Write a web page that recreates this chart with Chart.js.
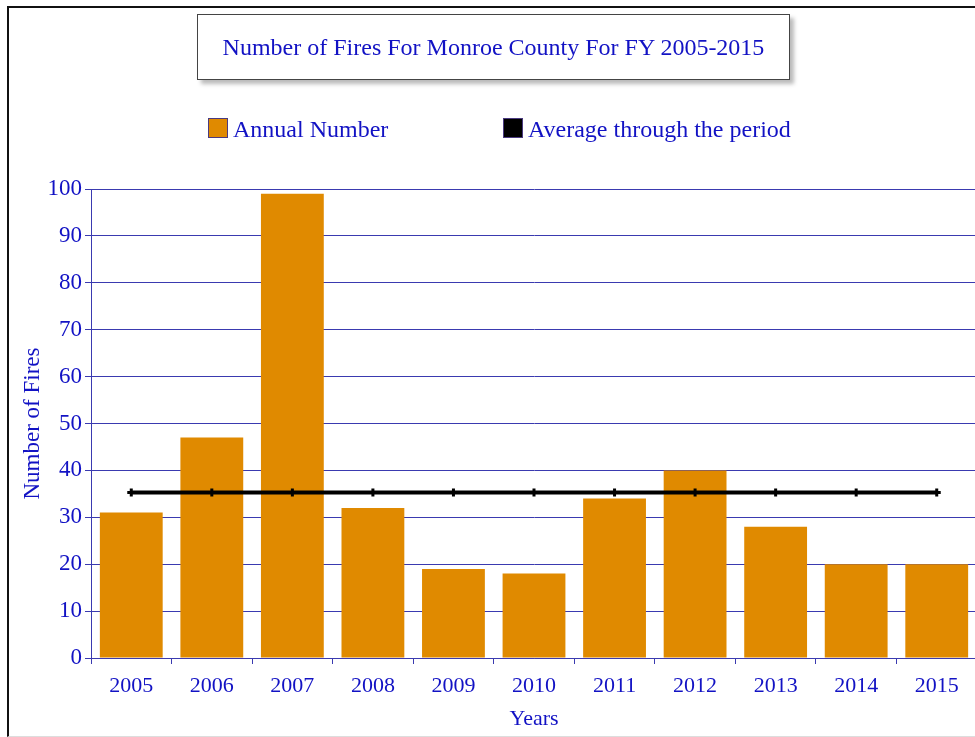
<!DOCTYPE html>
<html>
<head>
<meta charset="utf-8">
<script src="https://cdn.jsdelivr.net/npm/chart.js@4.4.0/dist/chart.umd.min.js"></script>
<style>
  html, body { margin: 0; padding: 0; background: #fff; }
  body { width: 975px; height: 737px; overflow: hidden; position: relative; font-family: "Liberation Serif", "Times New Roman", serif; }
  .frame { position: absolute; left: 7px; top: 6px; width: 1000px; height: 728px; border-left: 2px solid #111; border-top: 2px solid #111; border-bottom: 1px solid #ddd; }
  .titlebox { position: absolute; left: 197px; top: 14px; width: 591px; height: 64px; border: 1px solid #444; background: #fff; box-shadow: 4px 4px 4px #bbb; color: #1212c4; font-size: 24px; line-height: 64px; text-align: center; }
  .legend { position: absolute; top: 116px; color: #1212c4; font-size: 24px; line-height: 26px; white-space: nowrap; }
  .legend span.box { display: inline-block; width: 18px; height: 18px; vertical-align: -1px; margin-right: 5px; border: 1px solid #4a3a80; }
  #wrap { position: absolute; left: 0; top: 0; width: 984px; height: 737px; }
</style>
</head>
<body>
<div class="frame"></div>
<div id="wrap"><canvas id="fires"></canvas></div>
<div class="titlebox" id="title"></div>
<div class="legend" id="leg1" style="left:208px"></div>
<div class="legend" id="leg2" style="left:503px"></div>
<script>
const years = ['2005', '2006', '2007', '2008', '2009', '2010', '2011', '2012', '2013', '2014', '2015'];
const annualNumber = [31, 47, 99, 32, 19, 18, 34, 40, 28, 20, 20];
const periodAverage = [35.27, 35.27, 35.27, 35.27, 35.27, 35.27, 35.27, 35.27, 35.27, 35.27, 35.27];
const yTicks = [0, 10, 20, 30, 40, 50, 60, 70, 80, 90, 100];

const chartTitle = 'Number of Fires For Monroe County For FY 2005-2015';
const barColor = '#e08a00';
const lineColor = '#000000';
const textBlue = '#1212c4';
const gridBlue = '#3a3ab0';

document.getElementById('title').textContent = chartTitle;
document.getElementById('leg1').innerHTML = '<span class="box" style="background:' + barColor + '"></span>Annual Number';
document.getElementById('leg2').innerHTML = '<span class="box" style="background:' + lineColor + '"></span>Average through the period';

const serif = '"Liberation Serif", "Times New Roman", serif';

new Chart(document.getElementById('fires'), {
    data: {
        labels: years,
        datasets: [
            {
                type: 'line',
                label: 'Average through the period',
                data: periodAverage,
                borderColor: lineColor,
                backgroundColor: lineColor,
                borderWidth: 4,
                pointStyle: 'cross',
                pointRadius: 4,
                pointBorderWidth: 3,
                tension: 0,
                order: 0
            },
            {
                type: 'bar',
                label: 'Annual Number',
                data: annualNumber,
                backgroundColor: barColor,
                categoryPercentage: 0.78,
                barPercentage: 1.0,
                order: 1
            }
        ]
    },
    options: {
        responsive: true,
        maintainAspectRatio: false,
        animation: false,
        layout: { padding: { left: 10, top: 189, right: 0, bottom: 0 } },
        plugins: {
            legend: { display: false },
            tooltip: { enabled: false }
        },
        scales: {
            x: {
                grid: { display: true, drawOnChartArea: false, color: gridBlue, tickLength: 6, lineWidth: 1 },
                border: { color: gridBlue, width: 1 },
                ticks: { color: textBlue, font: { family: serif, size: 22 }, padding: 9 },
                title: { display: true, text: 'Years', color: textBlue, font: { family: serif, size: 22 }, padding: { top: 0, bottom: 5 } },
                afterFit: function(scale) { scale.height = 79; }
            },
            y: {
                min: 0,
                max: 100,
                afterBuildTicks: function(scale) { scale.ticks = yTicks.map(v => ({ value: v })); },
                grid: { color: gridBlue, tickLength: 6, lineWidth: 1 },
                border: { color: gridBlue, width: 1 },
                ticks: { color: textBlue, font: { family: serif, size: 23 }, padding: 3 },
                title: { display: true, text: 'Number of Fires', color: textBlue, font: { family: serif, size: 23 }, padding: { top: 9, bottom: 4 } },
                afterFit: function(scale) { scale.width = 81; }
            }
        }
    }
});
</script>
</body>
</html>
